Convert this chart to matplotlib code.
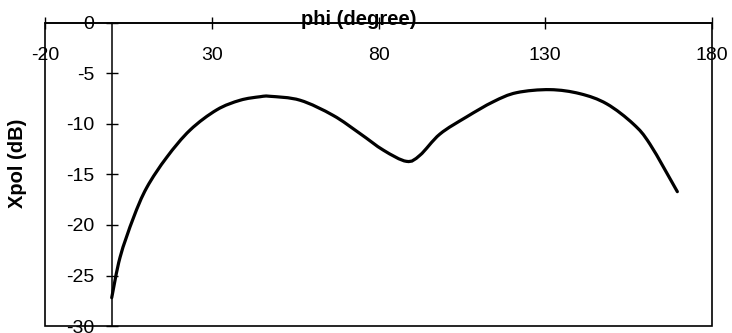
import numpy as np
import matplotlib.pyplot as plt
from matplotlib.patches import Rectangle, PathPatch
from matplotlib.path import Path

# Curve values (phi in degrees, Xpol in dB)
phi = [0.0, 2.5, 6.5, 10.5, 16.5, 23.5, 31.5, 38.5, 44.5, 47.5, 56.5, 66.4,
       74.5, 81.5, 88.4, 92.4, 98.4, 106.4, 114.4, 121.4, 131.4, 140.4,
       148.4, 156.4, 161.4, 169.6]
xpol = [-27.2, -23.2, -19.3, -16.3, -13.3, -10.6, -8.6, -7.65, -7.3, -7.26,
        -7.65, -9.15, -10.96, -12.6, -13.7, -13.1, -11.0, -9.3, -7.8, -6.9,
        -6.6, -7.0, -8.0, -10.0, -12.0, -16.7]

xticks = [-20, 30, 80, 130, 180]
yticks = [0, -5, -10, -15, -20, -25, -30]

plt.rcParams['font.family'] = ['Liberation Sans', 'DejaVu Sans']
plt.rcParams['axes.unicode_minus'] = False


def smooth_path(xs, ys):
    # smoothed line (Catmull-Rom segments as cubic Bezier), like a spreadsheet chart
    P = np.column_stack([xs, ys])
    verts = [P[0]]
    codes = [Path.MOVETO]
    n = len(P)
    for i in range(n - 1):
        p0 = P[i - 1] if i > 0 else P[i]
        p1, p2 = P[i], P[i + 1]
        p3 = P[i + 2] if i + 2 < n else P[i + 1]
        verts += [p1 + (p2 - p0) / 6, p2 - (p3 - p1) / 6, p2]
        codes += [Path.CURVE4] * 3
    return Path(verts, codes)


fig = plt.figure(figsize=(7.32, 3.33), dpi=100)
ax = fig.add_axes([0.0615, 0.021, 0.9112, 0.910])

ax.add_patch(PathPatch(smooth_path(phi, xpol), facecolor='none',
                       edgecolor='black', lw=2.3, capstyle='round'))

ax.set_xlim(-20, 180)
ax.set_ylim(-30, 0)

# axes cross at the origin, frame drawn separately
for s in ['top', 'right']:
    ax.spines[s].set_visible(False)
ax.spines['left'].set_position(('data', 0))
ax.spines['bottom'].set_position(('data', 0))
ax.spines['left'].set_linewidth(1.1)
ax.spines['bottom'].set_linewidth(1.1)
ax.add_patch(Rectangle((0, 0), 1, 1, transform=ax.transAxes, fill=False,
                       lw=1.2, edgecolor='black', clip_on=False))

ax.set_xticks(xticks)
ax.set_yticks(yticks)
ax.tick_params(axis='x', direction='inout', length=9, width=1, pad=13,
               labelsize=14)
ax.tick_params(axis='y', direction='inout', length=9, width=1, pad=8,
               labelsize=14)

ax.set_xlabel('phi (degree)', fontsize=14.5, fontweight='bold')
ax.xaxis.label.set_va('center')
ax.xaxis.set_label_coords(0.471, 1.01)
ax.set_ylabel('Xpol (dB)', fontsize=14.5, fontweight='bold')
ax.yaxis.label.set_va('center')
ax.yaxis.set_label_coords(-0.042, 0.538)

fig.savefig('out.png', dpi=100)
